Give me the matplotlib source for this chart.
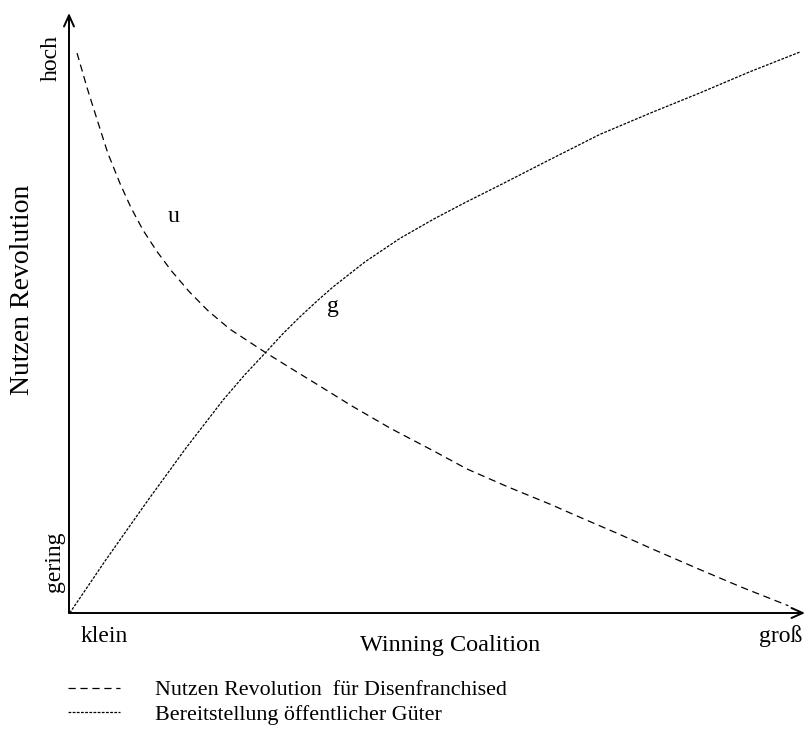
import matplotlib
matplotlib.use("Agg")
import matplotlib.pyplot as plt

# values (0..100 on both axes)
u_x = [1.1, 2.5, 4.0, 5.3, 7.0, 8.5, 10.1, 12.0, 14.0, 16.5, 19.0, 22.0, 26.8, 30.0,
       34.0, 38.7, 44.0, 50.0, 54.4, 60.0, 65.8, 70.0, 75.0, 80.0, 86.2, 92.0, 98.4]
u_y = [99.8, 93.5, 87.3, 82.0, 76.5, 72.2, 68.3, 64.5, 61.0, 57.2, 53.9, 50.6, 46.5, 43.9,
       40.7, 36.9, 32.9, 28.8, 25.7, 22.5, 19.4, 17.0, 14.2, 11.3, 7.8, 4.6, 1.3]

g_x = [0.1, 5.0, 10.8, 16.0, 21.1, 24.0, 26.8, 29.2, 31.6, 34.0, 36.1, 40.5, 45.3, 50.0,
       54.4, 59.0, 65.0, 72.6, 79.5, 86.3, 93.0, 100.0]
g_y = [0.0, 9.4, 20.1, 29.4, 38.0, 42.4, 46.3, 49.7, 52.8, 55.7, 58.1, 62.6, 66.8, 70.3,
       73.3, 76.3, 80.3, 85.3, 89.1, 92.7, 96.4, 100.0]

legend_labels = ["Nutzen Revolution  für Disenfranchised",
                 "Bereitstellung öffentlicher Güter"]


def main():
	plt.rcParams['font.family'] = ['Liberation Serif', 'DejaVu Serif']
	plt.rcParams['lines.scale_dashes'] = False

	fig = plt.figure(figsize=(8.06, 7.43), dpi=100)
	W, H = 806, 743
	ax = fig.add_axes([69 / W, 1 - 613 / H, 736 / W, 600 / H])
	ax.set_xlim(0, 100.68)
	ax.set_ylim(0, 106.95)
	ax.axis("off")

	l1, = ax.plot(u_x, u_y, color="black", lw=0.9, linestyle=(0, (5.2, 3.4)))
	l2, = ax.plot(g_x, g_y, color="black", lw=0.9, linestyle=(0, (2.0, 1.0)))

	# axes with arrows
	arrow = dict(arrowstyle="->,head_length=0.8,head_width=0.36", lw=1.4,
	             color="black", shrinkA=0, shrinkB=0)
	ax.annotate("", xy=(100.68, 0), xytext=(0, 0), arrowprops=arrow, annotation_clip=False)
	ax.annotate("", xy=(0, 106.95), xytext=(0, 0), arrowprops=arrow, annotation_clip=False)

	ax.text(14.3, 70.7, "u", fontsize=17, ha="center", va="center")
	ax.text(36.1, 54.6, "g", fontsize=17, ha="center", va="center")

	fig.text(51 / W, 1 - 58 / H, "hoch", fontsize=17, rotation=90, ha="center", va="center")
	fig.text(55 / W, 1 - 562 / H, "gering", fontsize=17, rotation=90, ha="center", va="center")
	fig.text(104 / W, 1 - 636 / H, "klein", fontsize=17, ha="center", va="center")
	fig.text(781 / W, 1 - 636 / H, "groß", fontsize=17, ha="center", va="center")
	fig.text(450 / W, 1 - 645 / H, "Winning Coalition", fontsize=17.5, ha="center", va="center")
	fig.text(23 / W, 1 - 290 / H, "Nutzen Revolution", fontsize=20, rotation=90,
	         ha="center", va="center")

	fig.legend([l1, l2], legend_labels, loc="upper left", bbox_to_anchor=(68 / W, 1 - 680 / H),
	           frameon=False, fontsize=15.8, handlelength=2.37, handletextpad=1.6,
	           labelspacing=0.18, borderpad=0, borderaxespad=0)

	fig.savefig("out.png", dpi=100)


if __name__ == '__main__':
	main()
